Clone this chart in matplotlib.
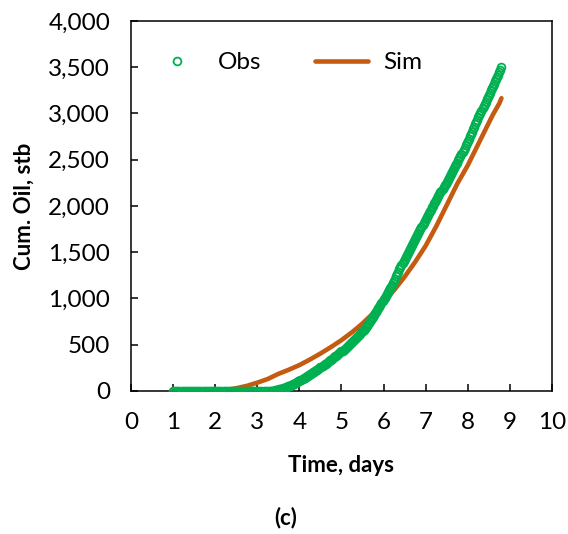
import numpy as np
import matplotlib.pyplot as plt
from matplotlib.ticker import FuncFormatter

plt.rcParams['font.family'] = ['Lato', 'DejaVu Sans']

# observed cumulative oil: every 0.05 day up to 3.3, then every 0.025 day to 8.8
obs_t = np.round(np.concatenate([np.arange(1.0, 3.3001, 0.05),
                                 np.arange(3.325, 8.8001, 0.025)]), 3)
obs_oil = [0] * 47 + [
    1, 2, 3, 5, 7, 10, 12, 15, 18, 22, 26, 30, 33, 37, 41, 45, 49, 53, 57, 62, 67, 73, 79, 85, 91, 97, 103,
    110, 116, 123, 130, 137, 144, 151, 158, 165, 172, 180, 187, 195, 202, 210, 217, 225, 232, 240, 247,
    255, 263, 272, 280, 289, 297, 306, 314, 323, 331, 340, 348, 357, 365, 374, 383, 392, 401, 410, 419,
    428, 437, 447, 456, 466, 476, 486, 496, 506, 516, 527, 538, 549, 560, 572, 584, 596, 608, 621, 634,
    647, 661, 675, 690, 705, 721, 737, 753, 770, 787, 804, 821, 839, 857, 875, 893, 912, 931, 950, 970,
    990, 1010, 1030, 1050, 1070, 1090, 1110, 1128, 1145, 1167, 1190, 1215, 1240, 1265, 1290, 1315, 1340, 1362, 1385, 1407,
    1430, 1451, 1472, 1493, 1514, 1535, 1556, 1577, 1598, 1619, 1640, 1661, 1683, 1704, 1726, 1747, 1769, 1790, 1811, 1833,
    1855, 1876, 1898, 1919, 1941, 1962, 1984, 2005, 2027, 2048, 2070, 2089, 2108, 2127, 2146, 2165, 2184, 2203, 2222, 2241,
    2260, 2281, 2302, 2323, 2344, 2365, 2386, 2407, 2428, 2449, 2470, 2493, 2516, 2539, 2562, 2585, 2608, 2631, 2654, 2677,
    2700, 2726, 2752, 2778, 2804, 2830, 2856, 2882, 2908, 2934, 2960, 2984, 3008, 3032, 3056, 3080, 3104, 3128, 3152, 3176,
    3200, 3225, 3249, 3274, 3298, 3323, 3347, 3372, 3396, 3421, 3445, 3475, 3505]

# simulated cumulative oil
sim_t = [1.0, 1.5, 2.0, 2.25, 2.5, 2.75, 3.0, 3.25, 3.5, 3.75, 4.0, 4.25, 4.5, 4.75, 5.0,
         5.25, 5.5, 5.75, 6.0, 6.25, 6.5, 6.75, 7.0, 7.25, 7.5, 7.75, 8.0, 8.25, 8.5,
         8.55, 8.6, 8.75, 8.8]
sim_oil = [0, 0, 0, 10, 30, 55, 90, 130, 185, 230, 280, 340, 405, 475, 550,
           635, 730, 840, 960, 1090, 1235, 1395, 1570, 1780, 2010, 2240, 2440, 2670, 2900,
           2945, 2990, 3110, 3165]

green = '#00B050'
orange = '#C55A11'

fig = plt.figure(figsize=(5.68, 5.34), dpi=100)
ax = fig.add_axes([0.2306, 0.2678, 0.7412, 0.6929])

ax.plot(sim_t, sim_oil, color=orange, lw=3.3, solid_capstyle='round', label='Sim', zorder=2)
ax.plot(obs_t, obs_oil, 'o', ms=5.6, mfc='none', mec=green, mew=1.3, label='Obs', zorder=3)

ax.set_xlim(0, 10)
ax.set_ylim(0, 4000)
ax.set_xticks(range(0, 11))
ax.set_yticks(range(0, 4001, 500))
ax.yaxis.set_major_formatter(FuncFormatter(lambda v, p: f'{int(v):,}'))
ax.tick_params(direction='in', length=5, width=1.1, labelsize=17.5, pad=15, colors='black')
for s in ax.spines.values():
    s.set_linewidth(1.1)

ax.set_xlabel('Time, days', fontsize=16, fontweight='bold', labelpad=16)
ax.set_ylabel('Cum. Oil, stb', fontsize=16, fontweight='bold', labelpad=10)

h, l = ax.get_legend_handles_labels()
ax.legend([h[1], h[0]], [l[1], l[0]], ncol=2, frameon=False, loc='upper left',
          bbox_to_anchor=(0.045, 0.916), borderaxespad=0, borderpad=0,
          fontsize=17.5, handlelength=2.2, handletextpad=0.6, columnspacing=2.2,
          numpoints=1)

fig.text(0.503, 0.018, '(c)', fontsize=16, fontweight='bold', ha='center')

fig.savefig('out.png', dpi=100)
